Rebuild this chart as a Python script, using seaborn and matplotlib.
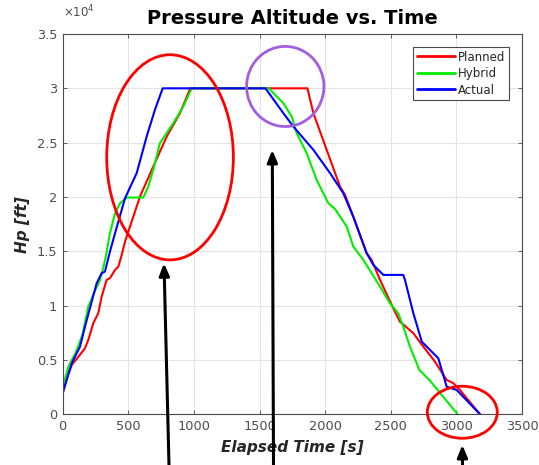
import numpy as np
import pandas as pd
import seaborn as sns
import matplotlib
matplotlib.use("Agg")
import matplotlib.pyplot as plt
from matplotlib.patches import Ellipse
from matplotlib.ticker import FuncFormatter

# ---------------- data ----------------
planned_t = [0, 30, 69, 120, 170, 195, 233, 271, 297, 335, 360, 399, 424, 450, 475,
             589, 690, 793, 894, 972, 1865, 1910, 2113, 2151, 2214, 2316, 2354, 2418,
             2519, 2570, 2672, 2748, 2837, 2926, 2977, 3027, 3180]
planned_hp = [2000, 3300, 4540, 5300, 6080, 6840, 8380, 9300, 10830, 12370, 12530, 13290,
              13590, 14670, 15900, 20040, 22800, 25570, 27720, 30000, 30000, 27720, 20960,
              20200, 18200, 14830, 14210, 12370, 9760, 8530, 7460, 6230, 4840, 3160, 2860,
              2240, 0]

hybrid_t = [0, 43, 100, 150, 195, 240, 284, 300, 330, 360, 399, 437, 488, 614, 652, 690,
            741, 843, 919, 983, 1570, 1681, 1745, 1783, 1859, 1935, 2024, 2075, 2164, 2214,
            2291, 2354, 2418, 2494, 2557, 2595, 2646, 2718, 2794, 2888, 3010]
hybrid_hp = [2500, 4380, 5700, 7300, 9910, 11200, 12370, 13000, 14600, 16670, 18510, 19430,
             19950, 19950, 20960, 22500, 24960, 26800, 28330, 30000, 30000, 28640, 27410,
             25880, 24040, 21580, 19430, 18900, 17280, 15440, 14210, 12990, 11750, 10220,
             9300, 8070, 6230, 4080, 3160, 1780, 0]

actual_t = [0, 69, 132, 170, 221, 259, 297, 322, 360, 399, 475, 564, 640, 703, 762, 1545,
            1681, 1757, 1910, 2037, 2138, 2214, 2316, 2367, 2443, 2595, 2608, 2672, 2736,
            2786, 2862, 2926, 3002, 3180]
actual_hp = [1930, 4700, 6230, 8070, 10370, 12060, 12990, 13130, 14970, 16670, 19890, 22200,
             25570, 28030, 30000, 30000, 27720, 26490, 24340, 22200, 20350, 18200, 14830,
             13750, 12830, 12830, 12370, 9300, 6690, 6080, 5160, 2540, 2240, 0]

series_names = ["Planned", "Hybrid", "Actual"]
series_colors = ["#ff0000", "#00ee00", "#0000ff"]
x_ticks = [0, 500, 1000, 1500, 2000, 2500, 3000, 3500]
y_ticks = [0, 5000, 10000, 15000, 20000, 25000, 30000, 35000]

df_p = pd.DataFrame({"t": planned_t, "hp": planned_hp})
df_h = pd.DataFrame({"t": hybrid_t, "hp": hybrid_hp})
df_a = pd.DataFrame({"t": actual_t, "hp": actual_hp})

# ---------------- figure ----------------
sns.set_theme(style="whitegrid")
plt.rcParams["font.family"] = ["DejaVu Sans"]

fig = plt.figure(figsize=(5.39, 4.65), dpi=100)
ax = fig.add_axes([0.1163, 0.109, 0.9685 - 0.1163, 0.9269 - 0.109])
ax.set_facecolor("white")

for df, name, col in zip([df_p, df_h, df_a], series_names, series_colors):
    sns.lineplot(data=df, x="t", y="hp", ax=ax, color=col, label=name,
                 sort=False, estimator=None, linewidth=1.5)

ax.set_xlim(0, 3500)
ax.set_ylim(0, 35000)
ax.set_xticks(x_ticks)
ax.set_yticks(y_ticks)
ax.yaxis.set_major_formatter(FuncFormatter(lambda v, p: ("%g" % (v / 1e4))))
ax.grid(True, color="#e3e3e3", linewidth=0.8)
for s in ax.spines.values():
    s.set_visible(True)
    s.set_color("#4a4a4a")
    s.set_linewidth(0.8)
ax.tick_params(axis="both", which="both", direction="in", length=3, width=0.6,
               color="#4a4a4a", labelsize=9.3, labelcolor="#4d4d4d",
               top=True, right=True, bottom=True, left=True, pad=4)

ax.text(0.0, 1.035, r"$\times10^{4}$", transform=ax.transAxes, fontsize=8.5,
        color="#4d4d4d", ha="left", va="bottom")

ax.set_title("Pressure Altitude vs. Time", fontsize=14, fontweight="bold",
             color="black", pad=7)
ax.set_xlabel("Elapsed Time [s]", fontsize=11, fontweight="bold", style="italic",
              color="#262626", labelpad=5)
ax.set_ylabel("Hp [ft]", fontsize=11, fontweight="bold", style="italic",
              color="#262626", labelpad=5)

leg = ax.legend(loc="upper right", fontsize=8.5, frameon=True, fancybox=False,
                edgecolor="#4a4a4a", framealpha=1, handlelength=3.2,
                borderpad=0.3, labelspacing=0.3, handletextpad=0.3,
                borderaxespad=1.1)
leg.get_frame().set_linewidth(0.8)
for line in leg.get_lines():
    line.set_linewidth(2)

# ---------------- annotations (ellipses and arrows) ----------------
ax.add_patch(Ellipse((818, 23650), 965, 18880, fill=False, edgecolor="#ff0000",
                     linewidth=2, clip_on=False, zorder=5))
ax.add_patch(Ellipse((1696, 30170), 589, 7370, fill=False, edgecolor="#a35ee0",
                     linewidth=2, clip_on=False, zorder=5))
ax.add_patch(Ellipse((3045, 190), 533, 4790, fill=False, edgecolor="#ff0000",
                     linewidth=2, clip_on=False, zorder=5))

arrows = [((169, 0), (164, 201.7)), ((273.5, 0), (272.3, 315)), ((462.5, 0), (462.3, 20))]
for start, tip in arrows:
    ax.annotate("", xy=tip, xycoords="figure pixels", xytext=start,
                textcoords="figure pixels", annotation_clip=False,
                arrowprops=dict(arrowstyle="-|>,head_length=0.6,head_width=0.25",
                                color="black", linewidth=2.2, shrinkA=0, shrinkB=0))

fig.savefig("out.png", dpi=100)
